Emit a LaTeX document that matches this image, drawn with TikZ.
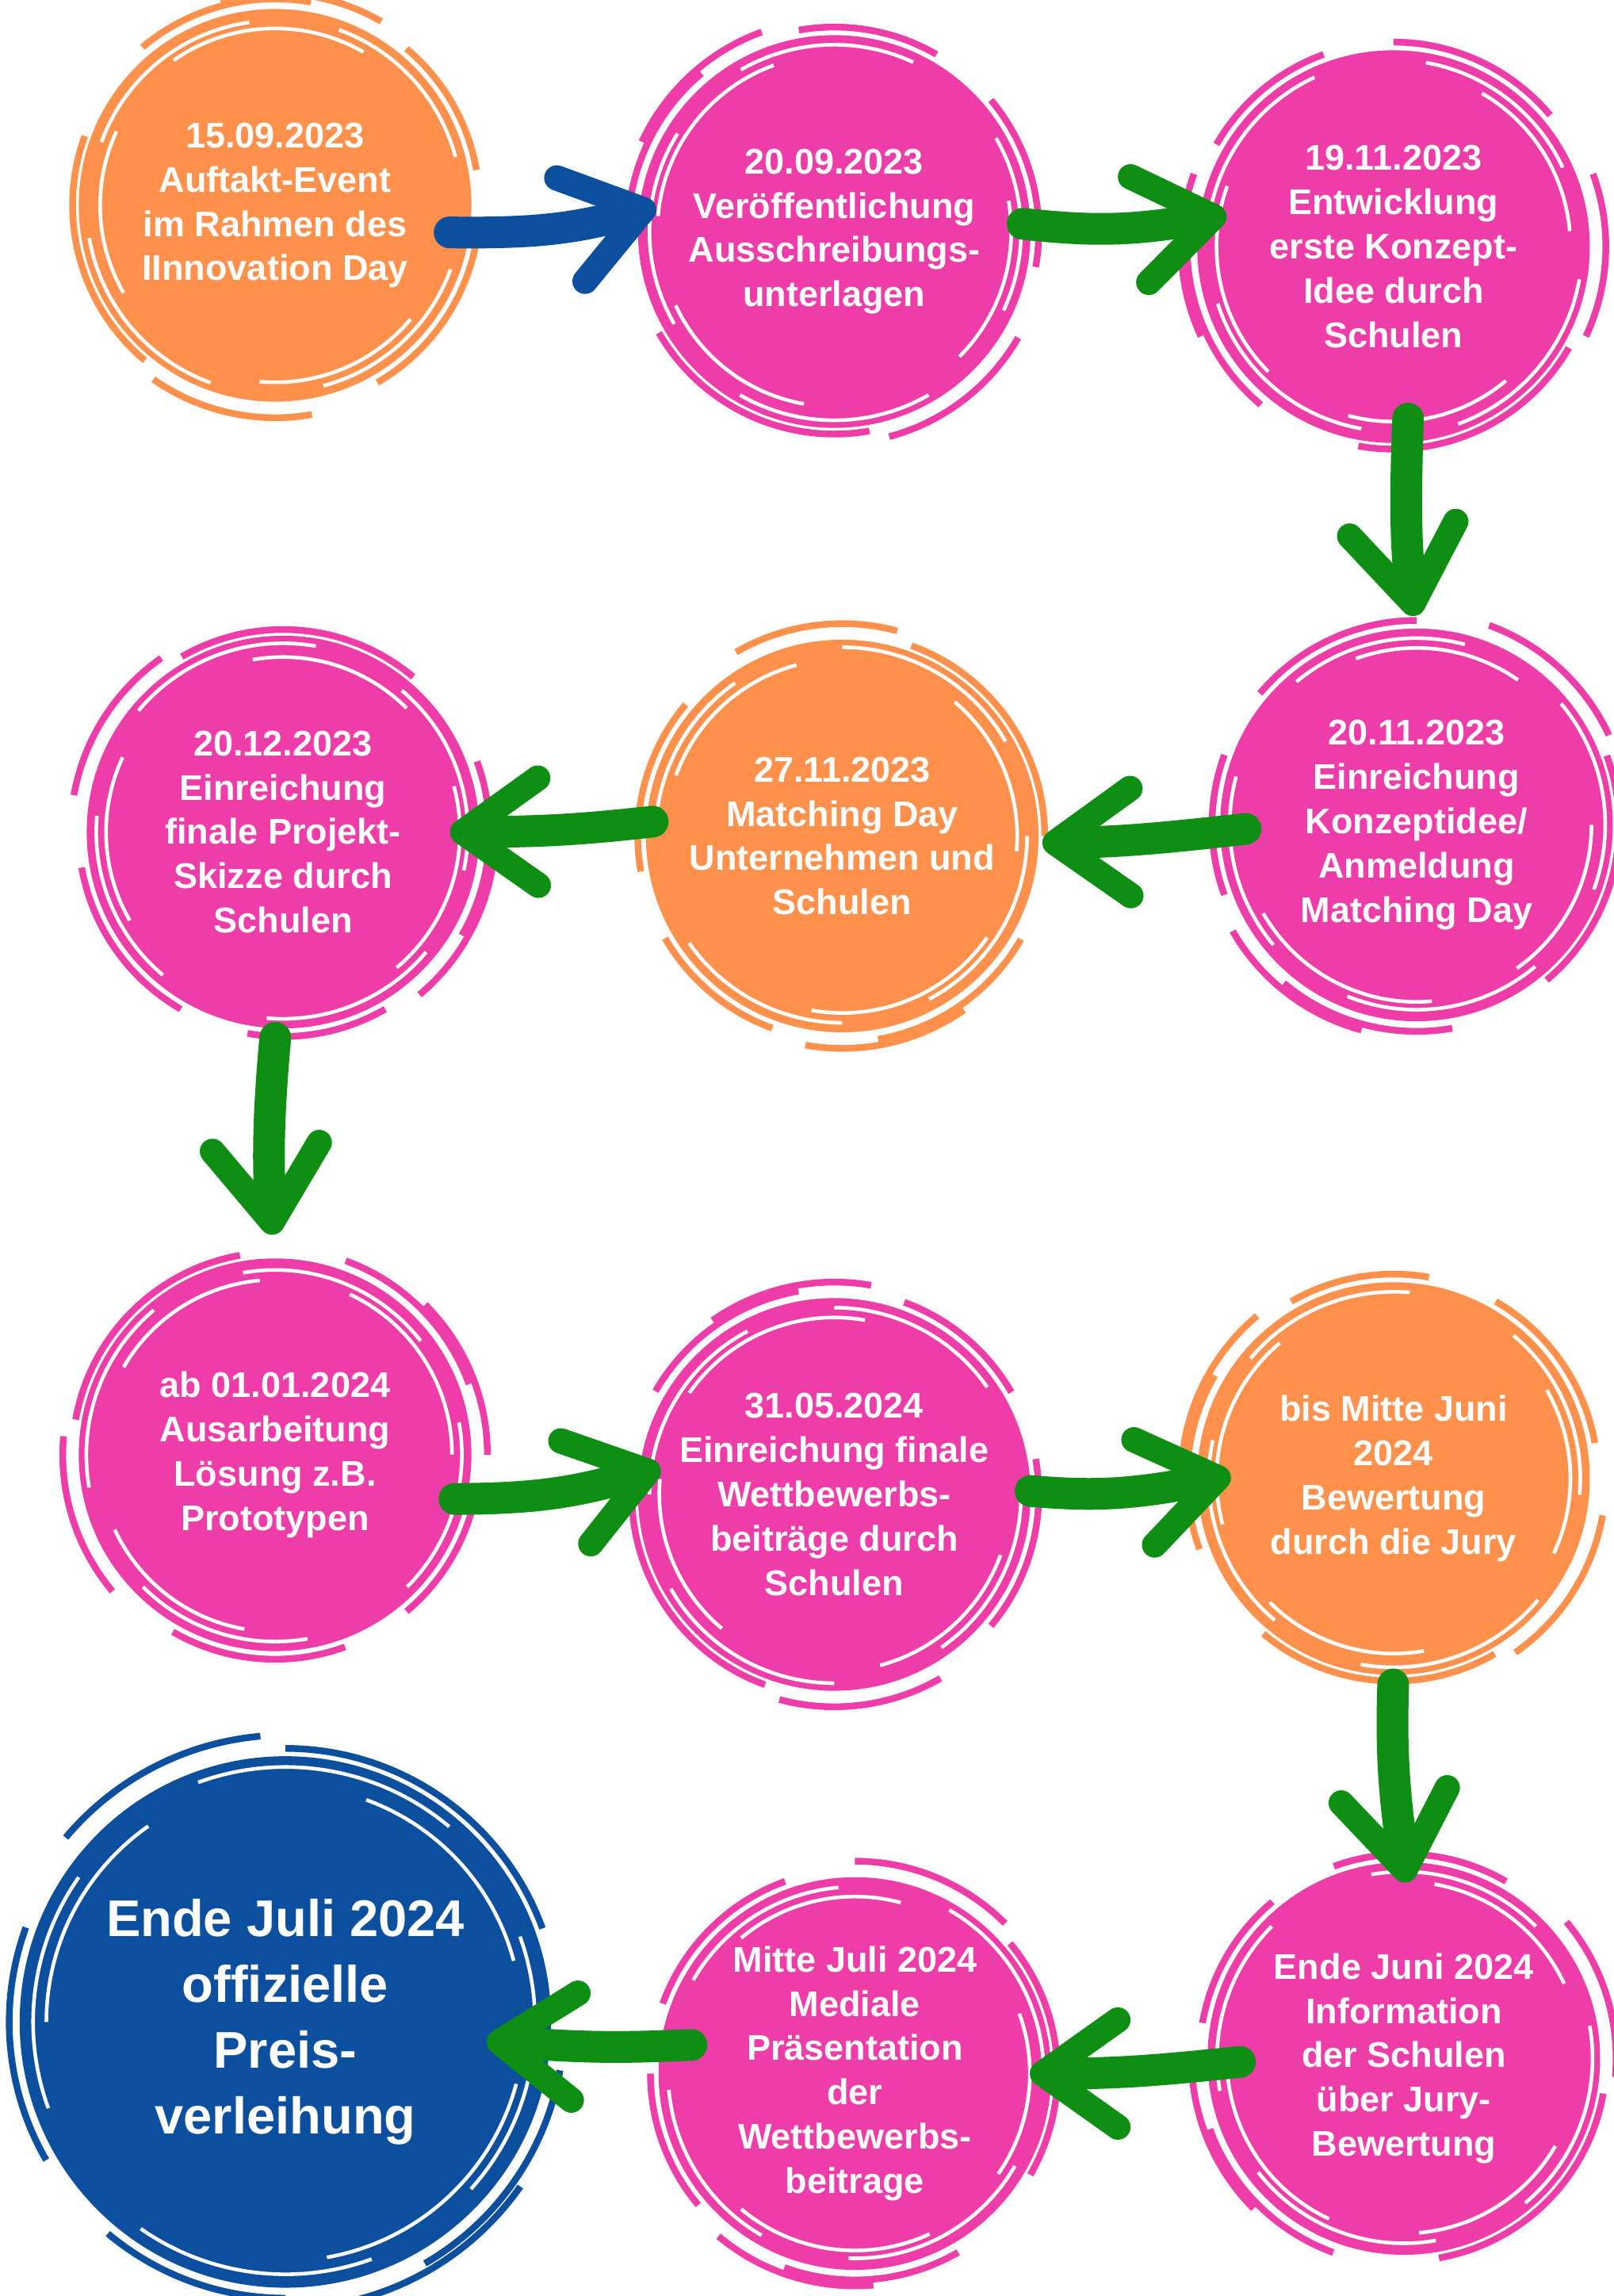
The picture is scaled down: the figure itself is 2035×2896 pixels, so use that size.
\documentclass[tikz,border=0pt]{standalone}
\usepackage{fontspec}
\setmainfont{Liberation Sans}
\usetikzlibrary{positioning,arrows.meta}
\definecolor{tlorange}{HTML}{FF914D}
\definecolor{tlpink}{HTML}{EE3DA9}
\definecolor{tlgreen}{HTML}{0E8F14}
\definecolor{tlblue}{HTML}{0C4F9E}

\begin{document}
\begin{tikzpicture}[x=0.01cm, y=-0.01cm, node distance=7.05cm]
    \tikzset{
      stage/.style = {circle, fill=#1, minimum size=4.95cm,
      inner sep=0pt, outer sep=0pt, text=white, align=center,
      font=\fontsize{12.8}{15.9}\selectfont\bfseries},
      stage/.default = tlpink, % most steps are pink
      flow/.style = {draw=#1, line width=0.4cm, line cap=round,
      -{Straight Barb[length=0.95cm, width=1.35cm, line width=0.32cm, round]}},
      flow/.default = tlgreen
    }

    \fill[white] (0,0) rectangle (2035,2896);
    \useasboundingbox (0,0) rectangle (2035,2896);

    \node[stage=tlorange] (c1) at (347,259)
      {15.09.2023\\Auftakt-Event\\im Rahmen des\\IInnovation Day};
    \node[stage, right of = c1, yshift=-0.33cm] (c2)
      {20.09.2023\\Veröffentlichung\\Ausschreibungs-\\unterlagen};
    \node[stage, right of = c2, yshift=-0.19cm] (c3)
      {19.11.2023\\Entwicklung\\erste Konzept-\\Idee durch\\Schulen};

    \node[stage, node distance=7.29cm, below of = c3, xshift=0.29cm] (c4)
      {20.11.2023\\Einreichung\\Konzeptidee/\\Anmeldung\\Matching Day};
    \node[stage=tlorange, left of = c4, xshift=-0.19cm, yshift=-0.14cm] (c5)
      {27.11.2023\\Matching Day\\Unternehmen und\\Schulen};
    \node[stage, left of = c5, yshift=0.05cm] (c6)
      {20.12.2023\\Einreichung\\finale Projekt-\\Skizze durch\\Schulen};

    \node[stage, node distance=7.85cm, below of = c6, xshift=-0.1cm] (c7)
      {ab 01.01.2024\\Ausarbeitung\\Lösung z.B.\\Prototypen};
    \node[stage, right of = c7, yshift=-0.5cm] (c8)
      {31.05.2024\\Einreichung finale\\Wettbewerbs-\\beiträge durch\\Schulen};
    \node[stage=tlorange, right of = c8, yshift=0.2cm] (c9)
      {bis Mitte Juni\\2024\\Bewertung\\durch die Jury};

    \node[stage, node distance=7.31cm, below of = c9, xshift=0.13cm] (c10)
      {Ende Juni 2024\\Information\\der Schulen\\über Jury-\\Bewertung};
    \node[stage, left of = c10, xshift=0.13cm, yshift=-0.19cm] (c11)
      {Mitte Juli 2024\\Mediale\\Präsentation\\der\\Wettbewerbs-\\beitrage};
    \node[stage=tlblue, minimum size=6.7cm, font=\fontsize{18.5}{23.6}\selectfont\bfseries,
      left of = c11, xshift=-0.13cm, yshift=0.65cm] (c12)
      {Ende Juli 2024\\offizielle\\Preis-\\verleihung};

    % brush strokes round each circle
    \foreach \nm/\rr/\cl/\rt in {c1/248/tlorange/0, c2/248/tlpink/50,
      c3/248/tlpink/100, c4/248/tlpink/150, c5/248/tlorange/200,
      c6/248/tlpink/250, c7/248/tlpink/300, c8/248/tlpink/20,
      c9/248/tlorange/70, c10/248/tlpink/120, c11/248/tlpink/170,
      c12/335/tlblue/220}
    {
      \begin{scope}[shift={(\nm.center)}, rotate=\rt]
        \foreach \a/\b/\f in {20/75/0.95, 110/170/0.96, 200/262/0.94,
          290/345/0.95, 40/95/0.9, 150/205/0.89, 235/300/0.9}
          \draw[white, line width=1.3pt] (\a:\f*\rr) arc (\a:\b:\f*\rr);
        \foreach \a/\b/\f in {10/60/1.04, 130/200/1.03, 230/280/1.05,
          310/350/1.04, 80/125/1.08, 255/300/1.08}
          \draw[\cl, line width=2.4pt] (\a:\f*\rr) arc (\a:\b:\f*\rr);
      \end{scope}
    }

    % y runs downwards, so bend right bulges upwards here
    \draw[flow=tlblue, shorten <=-0.25cm, shorten >=-0.22cm]
      (c1.-8) to[bend right=8] (c2.174);
    \draw[flow, shorten <=-0.1cm, shorten >=-0.35cm]
      (c2.2) to[bend right=8] (c3.172);
    \draw[flow, shorten <=-0.3cm, shorten >=0.16cm]
      (c3.-86) to[bend right=5] (c4.90);
    \draw[flow, shorten <=-0.32cm, shorten >=0.05cm]
      (c4.182) to[bend left=3] (c5.-2);
    \draw[flow, shorten <=-0.08cm, shorten >=-0.37cm]
      (c5.176) to[bend left=3] (c6.0);
    \draw[flow, shorten <=0.12cm, shorten >=0.3cm]
      (c6.-92) to[bend right=5] (c7.90);
    \draw[flow, shorten <=-0.15cm, shorten >=-0.28cm]
      (c7.-13) to[bend right=8] (c8.174);
    \draw[flow, shorten <=0cm, shorten >=-0.43cm]
      (c8.1) to[bend right=8] (c9.181);
    \draw[flow, shorten <=0.12cm, shorten >=-0.26cm]
      (c9.-90) to[bend right=5] (c10.90);
    \draw[flow, shorten <=-0.41cm, shorten >=-0.27cm]
      (c10.182) to[bend left=3] (c11.0);
    \draw[flow, shorten <=-0.39cm, shorten >=-0.8cm]
      (c11.172) to[bend left=3] (c12.-5);
\end{tikzpicture}
\end{document}
